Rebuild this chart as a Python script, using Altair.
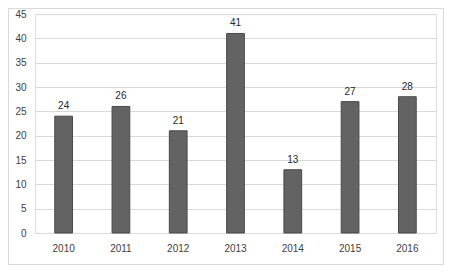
import altair as alt
import pandas as pd

years = ["2010", "2011", "2012", "2013", "2014", "2015", "2016"]
counts = [24, 26, 21, 41, 13, 27, 28]

df = pd.DataFrame({"year": years, "count": counts})

W, H = 401, 219
FONT = "Liberation Sans"

x = alt.X("year:N", sort=years, title=None,
          scale=alt.Scale(paddingInner=0.69, paddingOuter=0.345),
          axis=alt.Axis(labelAngle=0, ticks=False, domain=False, labelPadding=10,
                        labelFont=FONT, labelFontSize=10, labelColor="#404040"))
y = alt.Y("count:Q", title=None,
          scale=alt.Scale(domain=[0, 45]),
          axis=alt.Axis(values=list(range(0, 46, 5)), ticks=False, domain=False,
                        labelPadding=9, gridColor="#d9d9d9", gridWidth=1,
                        labelFont=FONT, labelFontSize=10, labelColor="#404040"))

bars = alt.Chart(df).mark_bar(color="#636363", stroke="#4a4a4a", strokeWidth=1).encode(x=x, y=y)
labels = alt.Chart(df).mark_text(baseline="bottom", dy=-5, font=FONT, fontSize=10,
                                 color="#262626").encode(x=x, y=y, text="count:Q")
frame = alt.Chart(df).mark_rect(fill=None, stroke="#d9d9d9", strokeWidth=1).encode(
    x=alt.value(-26.5), x2=alt.value(408.5), y=alt.value(-5.5), y2=alt.value(250.5))

chart = alt.layer(frame, bars, labels).properties(
    width=W, height=H,
    autosize=alt.AutoSizeParams(type="none"),
    padding={"left": 27, "top": 6, "right": 9, "bottom": 32},
).configure_view(stroke=None).configure(background="white")

chart.save("out.html", embed_options={"renderer": "svg", "actions": False})
